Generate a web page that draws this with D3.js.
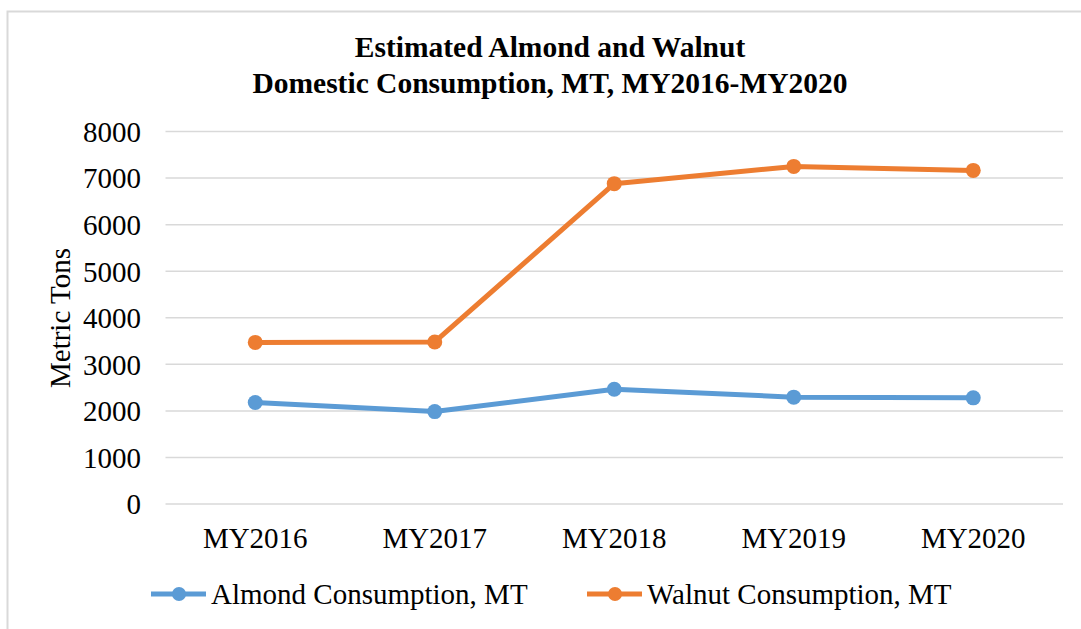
<!DOCTYPE html>
<html><head><meta charset="utf-8">
<script src="https://cdn.jsdelivr.net/npm/d3@7"></script>
<style>html,body{margin:0;padding:0;background:#fff;}svg{display:block;}</style>
</head><body>
<svg id="c" width="1081" height="629"></svg>
<script>
const categories = ["MY2016", "MY2017", "MY2018", "MY2019", "MY2020"];
const almond = [2180, 1985, 2465, 2295, 2280];
const walnut = [3470, 3480, 6880, 7250, 7165];
const yTicks = [0, 1000, 2000, 3000, 4000, 5000, 6000, 7000, 8000];
const seriesNames = ["Almond Consumption, MT", "Walnut Consumption, MT"];
const colors = ["#5B9BD5", "#ED7D31"];
const titleLines = ["Estimated Almond and Walnut", "Domestic Consumption, MT, MY2016-MY2020"];

const svg = d3.select("#c");
const font = "'Liberation Serif','Times New Roman',serif";
// frame
svg.append("path").attr("d", "M7.5,629 L7.5,11.5 L1081,11.5").attr("fill", "none").attr("stroke", "#D9D9D9").attr("stroke-width", 2);

const x = d3.scaleBand().domain(categories).range([165.5, 1063]);
const y = d3.scaleLinear().domain([0, 8000]).range([504, 131.5]);

// gridlines
svg.append("g").selectAll("line").data(yTicks).join("line")
  .attr("x1", 165.5).attr("x2", 1063).attr("y1", d => y(d)).attr("y2", d => y(d))
  .attr("stroke", "#D9D9D9").attr("stroke-width", 1.5);

// y axis
const ya = svg.append("g").attr("transform", "translate(141,0)")
  .call(d3.axisLeft(y).tickValues(yTicks).tickSize(0).tickPadding(0).tickFormat(d3.format("d")));
ya.select(".domain").remove();
ya.selectAll("text").attr("font-family", font).attr("font-size", 29).attr("fill", "#000").attr("dy", "0.34em");

// x axis
const xa = svg.append("g").attr("transform", "translate(0,504)")
  .call(d3.axisBottom(x).tickSize(0).tickPadding(0));
xa.select(".domain").remove();
xa.selectAll("text").attr("font-family", font).attr("font-size", 29).attr("fill", "#000").attr("dy", "0").attr("y", 44);

// y label
svg.append("text").attr("transform", "translate(70,318) rotate(-90)").attr("text-anchor", "middle")
  .attr("font-family", font).attr("font-size", 29).attr("fill", "#000").text("Metric Tons");

// title
svg.append("g").selectAll("text").data(titleLines).join("text")
  .attr("x", 550).attr("y", (d, i) => 57 + i * 36).attr("text-anchor", "middle")
  .attr("font-family", font).attr("font-weight", "bold").attr("font-size", 29.5).attr("fill", "#000")
  .text(d => d);

// series
const data = [almond, walnut];
const line = d3.line().x((d, i) => x(categories[i]) + x.bandwidth() / 2).y(d => y(d));
data.forEach((vals, s) => {
  svg.append("path").datum(vals).attr("d", line).attr("fill", "none")
    .attr("stroke", colors[s]).attr("stroke-width", 5).attr("stroke-linejoin", "round");
  svg.append("g").selectAll("circle").data(vals).join("circle")
    .attr("cx", (d, i) => x(categories[i]) + x.bandwidth() / 2).attr("cy", d => y(d))
    .attr("r", 7.5).attr("fill", colors[s]);
});

// legend
const legX = [151, 587];
const lg = svg.append("g");
seriesNames.forEach((n, s) => {
  lg.append("line").attr("x1", legX[s]).attr("x2", legX[s] + 55).attr("y1", 594).attr("y2", 594)
    .attr("stroke", colors[s]).attr("stroke-width", 5);
  lg.append("circle").attr("cx", legX[s] + 28).attr("cy", 594).attr("r", 7).attr("fill", colors[s]);
  lg.append("text").attr("x", legX[s] + 60).attr("y", 604).attr("font-family", font).attr("font-size", 29)
    .attr("fill", "#000").text(n);
});
</script>
</body></html>
